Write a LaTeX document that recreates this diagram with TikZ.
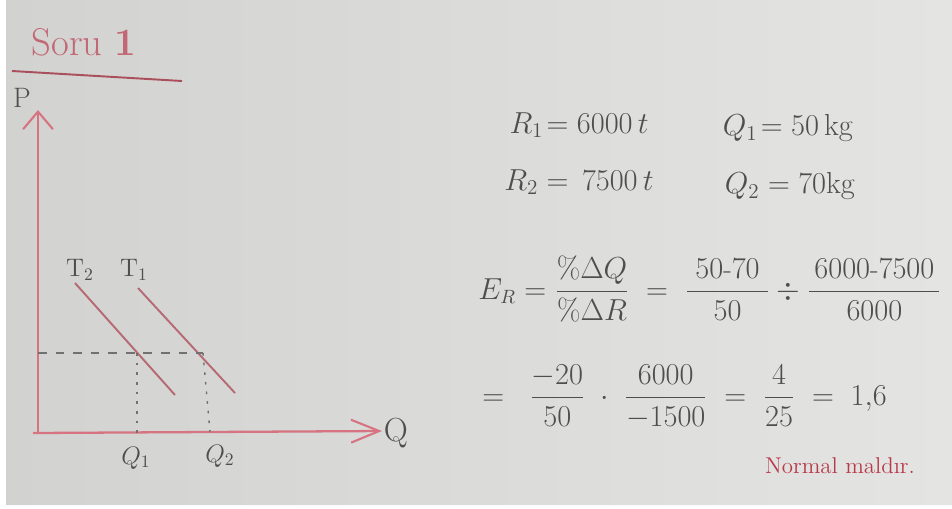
\documentclass[tikz,border=0pt]{standalone}
\usepackage{amsmath}
\usetikzlibrary{arrows.meta,positioning}
\definecolor{boardleft}{HTML}{D2D2D0}
\definecolor{boardright}{HTML}{E4E4E2}
\definecolor{penred}{HTML}{D77482}
\definecolor{pendark}{HTML}{A9505C}
\definecolor{inkred}{HTML}{B83A4A}
\definecolor{pengray}{HTML}{4E4E4E}
\tikzset{
  axis/.style={draw=penred, line width=1.3pt},
  demand/.style={draw=pendark!85, line width=1.1pt},
  guide/.style={draw=pengray!80, line width=0.8pt},
  handlabel/.style={text=pengray, inner sep=0pt},
}

\begin{document}
\begin{tikzpicture}[
  x=0.02cm, y=-0.02cm,
  formula/.style={handlabel, font=\fontsize{16}{19}\selectfont},
  given/.style={handlabel, font=\fontsize{18}{22}\selectfont},
  smalllabel/.style={handlabel, font=\fontsize{14}{17}\selectfont},
]
% Board
\fill[white] (0,0) rectangle (952,508);
\shade[left color=boardleft, right color=boardright] (6,0) rectangle (952,504);
\useasboundingbox (0,0) rectangle (952,508);

% Title
\node[text=penred!90!black, font=\fontsize{22}{26}\selectfont] (title) at (84,42) {Soru \textbf{1}};
\coordinate (ulstart) at (12,71);
\coordinate (ulend) at (182,81);
\draw[draw=pendark, line width=1.1pt] (ulstart) -- (ulend);

% Axes
\coordinate (origin) at (38,433);
\coordinate (ytop) at (38,110);
\coordinate (xstart) at (33,433);
\coordinate (xend) at (382,431);
\draw[axis, -{Straight Barb[length=10pt, width=17pt, line width=1.2pt]}] (origin) -- (ytop);
\draw[axis, -{Straight Barb[length=16pt, width=13pt, line width=1.2pt]}] (xstart) -- (xend);
\node[handlabel, font=\fontsize{16}{19}\selectfont] (plabel) at (22,98) {P};
\node[handlabel, font=\fontsize{19}{22}\selectfont] (qlabel) at (396,433) {Q};

% Demand curves
\coordinate (ttwotop) at (75,283);
\coordinate (ttwobot) at (175,395);
\coordinate (tonetop) at (138,288);
\coordinate (tonebot) at (235,393);
\draw[demand] (ttwotop) -- (ttwobot);
\draw[demand] (tonetop) -- (tonebot);
\node[smalllabel] (ttwo) at (80,270) {$\mathrm{T}_2$};
\node[smalllabel] (tone) at (134,270) {$\mathrm{T}_1$};

% Guides to the axes
\coordinate (pmark) at (38,353);
\coordinate (cutone) at (137,353);
\coordinate (cuttwo) at (203,353);
\coordinate (qone) at (137,433);
\coordinate (qtwo) at (210,432);
\draw[guide, dash pattern=on 5pt off 5pt] (pmark) -- (cuttwo);
\draw[guide, dash pattern=on 1.5pt off 4pt] (cutone) -- (qone);
\draw[guide, dash pattern=on 1.5pt off 4pt] (cuttwo) -- (qtwo);
\node[smalllabel] (qonelabel) at (136,458) {$Q_1$};
\node[smalllabel] (qtwolabel) at (220,456) {$Q_2$};

% Given values
\node[given] (rone) at (579,125) {$R_1\!=6000\,t$};
\node[given] (rtwo) at (579,182) {$R_2=\,7500\,t$};
\node[given] (qonegiven) at (788,128) {$Q_1\!=50\,\mathrm{kg}$};
\node[given] (qtwogiven) at (790,186) {$Q_2 = 70\mathrm{kg}$};

% Elasticity
\node[formula, anchor=west] (elast) at (478,289)
  {$E_R = \dfrac{\%\Delta Q}{\%\Delta R} \;=\; \dfrac{\;50\text{-}70\;}{50} \div \dfrac{\,6000\text{-}7500\,}{6000}$};
\node[formula, anchor=west] (result) at (482,397)
  {$= \;\; \dfrac{-20}{50} \;\cdot\; \dfrac{6000}{-1500} \;=\; \dfrac{4}{25} \;=\; 1{,}6$};

\node[text=inkred, font=\fontsize{13}{16}\selectfont] (verdict) at (840,466) {Normal maldır.};
\end{tikzpicture}
\end{document}
